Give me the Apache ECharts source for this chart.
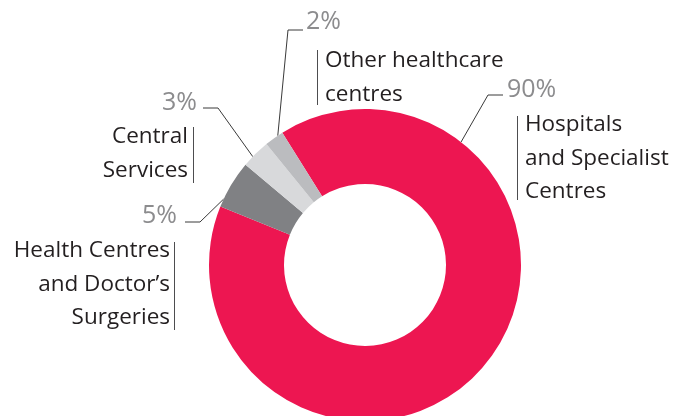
<!DOCTYPE html>
<html>
<head>
<meta charset="utf-8">
<script src="https://cdn.jsdelivr.net/npm/echarts@6/dist/echarts.min.js"></script>
<style>
  html, body { margin: 0; padding: 0; background: #fff; }
  #chart { width: 674px; height: 416px; }
</style>
</head>
<body>
<div id="chart"></div>
<script>
// Share of facilities by type (per cent)
const categories = [
  'Hospitals and Specialist Centres',
  'Health Centres and Doctor\u2019s Surgeries',
  'Central Services',
  'Other healthcare centres'
];
const values = [90, 5, 3, 2];
const nameLines = [
  ['Hospitals', 'and Specialist', 'Centres'],
  ['Health Centres', 'and Doctor\u2019s', 'Surgeries'],
  ['Central', 'Services'],
  ['Other healthcare', 'centres']
];
const colors = ['#ED1651', '#808184', '#D8D9DB', '#BBBCBF'];

const FONT = '"Open Sans", "Noto Sans", sans-serif';
const CENTER = [365, 265];
const R_IN = 81, R_OUT = 156;

// Callout geometry: angle on the outer rim where each leader starts,
// elbow point, end of the horizontal tick, and where the percentage sits.
const anchorAngle = [52, 155, 136, 124];
const elbow = [[488, 95], [200, 222], [218, 108], [288, 30]];
const tickEnd = [[503, 95], [185, 222], [203, 108], [303, 30]];
const pctPos = [
  { x: 507, y: 90, align: 'left' },
  { x: 177, y: 216, align: 'right' },
  { x: 197, y: 103, align: 'right' },
  { x: 306, y: 22, align: 'left' }
];
// Name blocks: vertical rule x, rule span, text anchor x, first line centre
const nameBlocks = [
  { rule: 517, y0: 116, y1: 200, tx: 525, align: 'left', top: 125 },
  { rule: 174, y0: 242, y1: 330, tx: 170, align: 'right', top: 251 },
  { rule: 193, y0: 127, y1: 183, tx: 188, align: 'right', top: 137 },
  { rule: 317, y0: 50, y1: 105, tx: 325, align: 'left', top: 61 }
];
const LINE_H = 33.5;

function rimPoint(deg) {
  const a = deg * Math.PI / 180;
  return [CENTER[0] + R_OUT * Math.cos(a), CENTER[1] - R_OUT * Math.sin(a)];
}

const chart = echarts.init(document.getElementById('chart'), null, { renderer: 'canvas' });

const graphics = [];
nameBlocks.forEach(function (b, i) {
  graphics.push({
    type: 'line',
    shape: { x1: b.rule + 0.5, y1: b.y0, x2: b.rule + 0.5, y2: b.y1 },
    style: { stroke: '#4d4d4f', lineWidth: 1 }
  });
  graphics.push({
    type: 'text',
    x: b.tx,
    y: b.top - LINE_H / 2,
    style: {
      text: nameLines[i].join('\n'),
      font: '400 22.5px ' + FONT,
      fill: '#231F20',
      align: b.align,
      verticalAlign: 'top',
      lineHeight: LINE_H
    }
  });
});

chart.setOption({
  animation: false,
  backgroundColor: '#ffffff',
  color: colors,
  graphic: graphics,
  series: [{
    type: 'pie',
    center: CENTER,
    radius: [R_IN, R_OUT],
    startAngle: 122,
    clockwise: true,
    avoidLabelOverlap: false,
    silent: true,
    data: categories.map(function (c, i) { return { name: c, value: values[i] }; }),
    label: {
      show: true,
      position: 'outside',
      formatter: function (p) { return values[p.dataIndex] + '%'; },
      color: '#8C8C8E',
      fontFamily: FONT,
      fontSize: 25,
      fontWeight: 400
    },
    labelLine: {
      show: true,
      length: 20,
      length2: 15,
      lineStyle: { color: '#3a3a3a', width: 1 }
    },
    labelLayout: function (params) {
      const i = params.dataIndex;
      return {
        x: pctPos[i].x,
        y: pctPos[i].y,
        align: pctPos[i].align,
        verticalAlign: 'middle',
        labelLinePoints: [rimPoint(anchorAngle[i]), elbow[i], tickEnd[i]]
      };
    }
  }]
});
</script>
</body>
</html>
